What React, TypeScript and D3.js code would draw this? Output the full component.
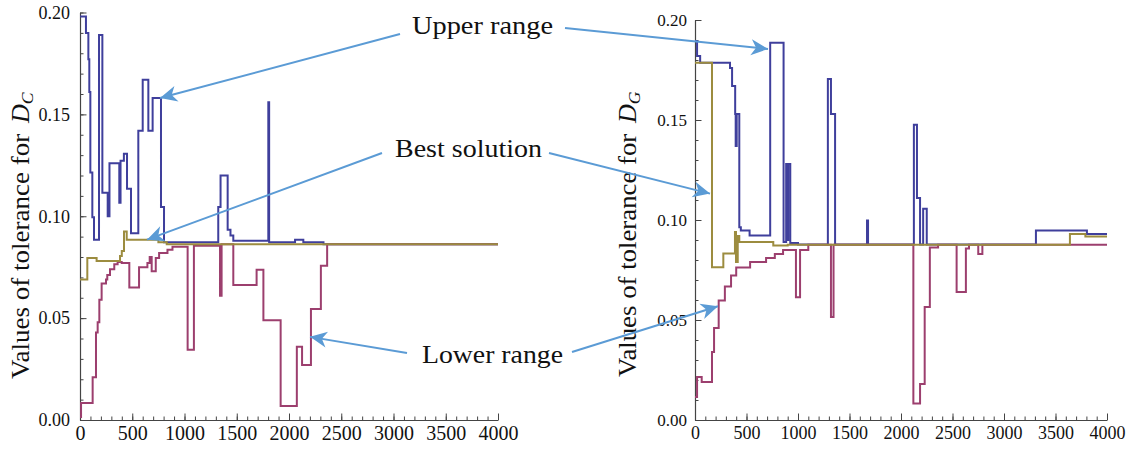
import React, { useEffect, useRef } from 'react';
import * as d3 from 'd3';

// ---------- data ----------
const xTickValues = [0, 500, 1000, 1500, 2000, 2500, 3000, 3500, 4000];
const yTickValues = [0, 0.05, 0.1, 0.15, 0.2];
const X_MAX = 4000;

// Left panel (D_C)
const leftUpperX = [0, 57, 80, 89, 99, 118, 134, 182, 214, 265, 282, 376, 388, 420, 450, 488, 558, 600, 654, 695, 775, 804, 1323, 1345, 1413, 1440, 1467, 1802, 1810, 2058, 2137, 2330];
const leftUpperY = [0.198, 0.19, 0.177, 0.161, 0.1215, 0.0995, 0.0885, 0.189, 0.1115, 0.1, 0.126, 0.1066, 0.1273, 0.1307, 0.1135, 0.0917, 0.142, 0.167, 0.142, 0.158, 0.1045, 0.0872, 0.1045, 0.12, 0.0934, 0.0905, 0.088, 0.156, 0.0872, 0.0885, 0.0872, 0.0862];

const leftBestX = [0, 70, 159, 383, 400, 421, 447, 750, 830];
const leftBestY = [0.069, 0.0795, 0.078, 0.0805, 0.083, 0.0925, 0.0885, 0.0872, 0.0862];

const leftLowerX = [0, 10, 121, 153, 169, 185, 207, 249, 261, 287, 328, 360, 399, 472, 565, 645, 667, 686, 725, 757, 837, 885, 1030, 1090, 1340, 1355, 1467, 1690, 1755, 1920, 2075, 2125, 2210, 2305, 2365];
const leftLowerY = [0.0015, 0.0083, 0.021, 0.043, 0.048, 0.059, 0.067, 0.069, 0.0712, 0.074, 0.0765, 0.0775, 0.077, 0.065, 0.075, 0.077, 0.08, 0.073, 0.0795, 0.082, 0.0835, 0.085, 0.0345, 0.0855, 0.061, 0.0862, 0.0663, 0.0737, 0.049, 0.0069, 0.036, 0.027, 0.0545, 0.0757, 0.0862];

// Right panel (D_G)
const rightUpperX = [0, 20, 50, 340, 360, 390, 395, 405, 430, 445, 530, 730, 860, 885, 900, 905, 925, 1000, 1290, 1320, 1360, 1670, 1680, 2125, 2155, 2185, 2215, 2250, 3310, 3805];
const rightUpperY = [0.1895, 0.182, 0.1786, 0.176, 0.167, 0.153, 0.137, 0.153, 0.0964, 0.0948, 0.0923, 0.1886, 0.089, 0.128, 0.09, 0.128, 0.0885, 0.0877, 0.1705, 0.153, 0.0877, 0.0998, 0.0877, 0.1476, 0.111, 0.0877, 0.1056, 0.0877, 0.0948, 0.093];

const rightBestX = [0, 165, 275, 388, 398, 415, 430, 760, 900, 3640, 3790];
const rightBestY = [0.1786, 0.0764, 0.0833, 0.094, 0.079, 0.092, 0.089, 0.0873, 0.0876, 0.093, 0.0918];

const rightLowerX = [0, 20, 65, 165, 185, 230, 290, 350, 400, 535, 690, 775, 855, 980, 1020, 1100, 1320, 1345, 2120, 2185, 2230, 2280, 2360, 2540, 2630, 2660, 2750, 2790];
const rightLowerY = [0.0115, 0.0215, 0.019, 0.034, 0.046, 0.0598, 0.0668, 0.0723, 0.0763, 0.079, 0.081, 0.083, 0.085, 0.0614, 0.085, 0.0876, 0.0515, 0.0876, 0.0083, 0.018, 0.0565, 0.0862, 0.0876, 0.064, 0.0858, 0.0876, 0.083, 0.0876];

const annotationLabels = ['Upper range', 'Best solution', 'Lower range'];

// ---------- styles ----------
const BLUE = '#3f3f9c';
const OLIVE = '#9c8c3f';
const MAGENTA = '#9c3f6e';
const ARROW = '#5b9bd5';
const AXIS = '#444';
const SERIF = "'Liberation Serif', 'Times New Roman', serif";

type Layout = {
  x0: number; x1: number; yTop: number; yBottom: number;
  yTickFont: number; xTickFont: number; yTickPad: number; xTickPad: number;
  labelX: number; labelStart: number; sub: string; labelFont: number; labelLen: number;
};

function toPoints(xs: number[], ys: number[]): [number, number][] {
  const pts: [number, number][] = xs.map((v, i) => [v, ys[i]]);
  pts.push([X_MAX, ys[ys.length - 1]]);
  return pts;
}

function Panel({ layout, upper, best, lower }: {
  layout: Layout;
  upper: [number[], number[]]; best: [number[], number[]]; lower: [number[], number[]];
}) {
  const axRef = useRef<SVGGElement>(null);
  const x = d3.scaleLinear().domain([0, X_MAX]).range([layout.x0, layout.x1]);
  const y = d3.scaleLinear().domain([0, 0.2]).range([layout.yBottom, layout.yTop]);
  const line = d3.line<[number, number]>().x(d => x(d[0])).y(d => y(d[1])).curve(d3.curveStepAfter);

  useEffect(() => {
    const g = d3.select(axRef.current);
    g.selectAll('*').remove();
    const gxm = g.append('g').attr('transform', `translate(0,${layout.yBottom})`)
      .call(d3.axisBottom(x).tickValues(d3.range(0, X_MAX + 1, 100)).tickSize(-3.5).tickFormat(() => ''));
    gxm.select('.domain').remove();
    const gym = g.append('g').attr('transform', `translate(${layout.x0},0)`)
      .call(d3.axisLeft(y).tickValues(d3.range(0, 0.2001, 0.01)).tickSize(-3.5).tickFormat(() => ''));
    gym.select('.domain').remove();
    const gx = g.append('g').attr('transform', `translate(0,${layout.yBottom})`)
      .call(d3.axisBottom(x).tickValues(xTickValues).tickSizeInner(-6.5).tickSizeOuter(0).tickPadding(layout.xTickPad).tickFormat(d3.format('d')));
    const gy = g.append('g').attr('transform', `translate(${layout.x0},0)`)
      .call(d3.axisLeft(y).tickValues(yTickValues).tickSizeInner(-6.5).tickSizeOuter(0).tickPadding(layout.yTickPad).tickFormat(d3.format('.2f')));
    [gx, gy, gxm, gym].forEach(s => {
      s.attr('font-family', null);
      s.selectAll('line').attr('stroke', AXIS).attr('stroke-width', 1);
      s.selectAll('.domain').attr('stroke', AXIS).attr('stroke-width', 1.2);
    });
    gx.selectAll('text').style('font-family', SERIF).style('font-size', `${layout.xTickFont}px`).attr('fill', '#111');
    gy.selectAll('text').style('font-family', SERIF).style('font-size', `${layout.yTickFont}px`).attr('fill', '#111');
  });

  return (
    <g>
      <g ref={axRef} />
      <path d={line(toPoints(upper[0], upper[1])) || ''} fill="none" stroke={BLUE} strokeWidth={2} />
      <path d={line(toPoints(lower[0], lower[1])) || ''} fill="none" stroke={MAGENTA} strokeWidth={2} />
      <path d={line(toPoints(best[0], best[1])) || ''} fill="none" stroke={OLIVE} strokeWidth={2} />
      <text transform={`translate(${layout.labelX},${layout.labelStart}) rotate(-90)`}
        style={{ fontFamily: SERIF, fontSize: `${layout.labelFont}px` }} fill="#111">
        <tspan textLength={layout.labelLen} lengthAdjust="spacingAndGlyphs">Values of tolerance for </tspan>
        <tspan fontStyle="italic" dx={4}>D</tspan>
        <tspan fontStyle="italic" style={{ fontSize: `${layout.labelFont * 0.68}px` }} dy={4}>{layout.sub}</tspan>
      </text>
    </g>
  );
}

const leftLayout: Layout = {
  x0: 80, x1: 498, yTop: 12.5, yBottom: 420,
  yTickFont: 18, xTickFont: 20, yTickPad: 10, xTickPad: 6,
  labelX: 29, labelStart: 379, sub: 'C', labelFont: 26, labelLen: 252,
};
const rightLayout: Layout = {
  x0: 695, x1: 1107, yTop: 20, yBottom: 420,
  yTickFont: 17, xTickFont: 18, yTickPad: 8, xTickPad: 6,
  labelX: 636, labelStart: 377, sub: 'G', labelFont: 26, labelLen: 250,
};

function Arrow({ x1, y1, x2, y2 }: { x1: number; y1: number; x2: number; y2: number }) {
  return <line x1={x1} y1={y1} x2={x2} y2={y2} stroke={ARROW} strokeWidth={2} markerEnd="url(#arrowHead)" />;
}

const annoStyle = { fontFamily: SERIF, fontSize: '26px' };

export default function App() {
  const xl = d3.scaleLinear().domain([0, X_MAX]).range([leftLayout.x0, leftLayout.x1]);
  const yl = d3.scaleLinear().domain([0, 0.2]).range([leftLayout.yBottom, leftLayout.yTop]);
  const xr = d3.scaleLinear().domain([0, X_MAX]).range([rightLayout.x0, rightLayout.x1]);
  const yr = d3.scaleLinear().domain([0, 0.2]).range([rightLayout.yBottom, rightLayout.yTop]);

  return (
    <svg width={1127} height={450} style={{ position: 'absolute', left: 0, top: 0, background: '#fff' }}>
      <defs>
        <marker id="arrowHead" viewBox="-18 -9 19 18" refX={0} refY={0} markerWidth={19} markerHeight={18}
          markerUnits="userSpaceOnUse" orient="auto">
          <path d="M0,0 L-17,-8 L-12,0 L-17,8 Z" fill={ARROW} />
        </marker>
      </defs>
      <rect x={0} y={0} width={1127} height={450} fill="#fff" />
      <Panel layout={leftLayout} upper={[leftUpperX, leftUpperY]} best={[leftBestX, leftBestY]} lower={[leftLowerX, leftLowerY]} />
      <Panel layout={rightLayout} upper={[rightUpperX, rightUpperY]} best={[rightBestX, rightBestY]} lower={[rightLowerX, rightLowerY]} />

      <text x={412} y={34} style={annoStyle} fill="#111" textLength={141} lengthAdjust="spacingAndGlyphs">{annotationLabels[0]}</text>
      <text x={395} y={157} style={annoStyle} fill="#111" textLength={147} lengthAdjust="spacingAndGlyphs">{annotationLabels[1]}</text>
      <text x={422} y={363} style={annoStyle} fill="#111" textLength={141} lengthAdjust="spacingAndGlyphs">{annotationLabels[2]}</text>

      <Arrow x1={400} y1={34} x2={xl(766)} y2={yl(0.158)} />
      <Arrow x1={565} y1={28} x2={xr(709)} y2={yr(0.1855)} />
      <Arrow x1={382} y1={153} x2={xl(641)} y2={yl(0.0885)} />
      <Arrow x1={549} y1={153} x2={xr(146)} y2={yr(0.1132)} />
      <Arrow x1={407} y1={353} x2={xl(2201)} y2={yl(0.0408)} />
      <Arrow x1={572} y1={352} x2={xr(223)} y2={yr(0.0569)} />
    </svg>
  );
}
